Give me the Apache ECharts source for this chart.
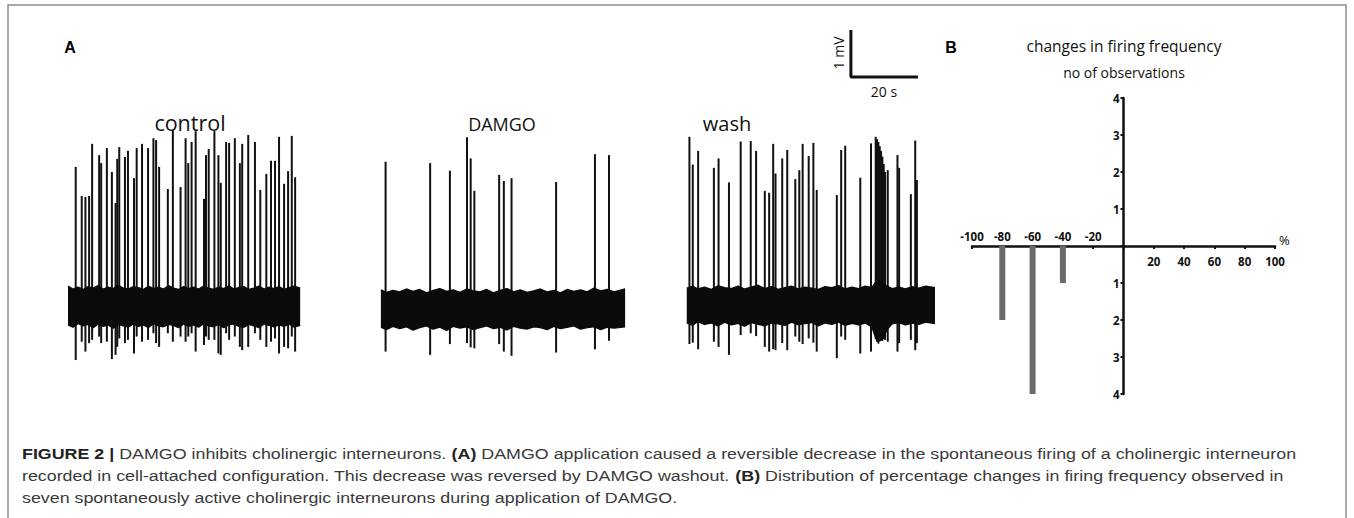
<!DOCTYPE html>
<html><head><meta charset="utf-8">
<script src="https://cdn.jsdelivr.net/npm/echarts@6/dist/echarts.min.js"></script>
<style>html,body{margin:0;padding:0;background:#fff}#c{width:1354px;height:518px}</style>
</head><body><div id="c"></div>
<script>
// ---------- Panel A : recordings (time in s, potential in mV) ----------
const traceLabels = ['control', 'DAMGO', 'wash'];
// spikes: [time s, peak mV, trough mV]
const controlSpikes = [[2.3,2.96,-1.15],[4.1,2.34,-0.76],[5.2,2.32,-0.97],[6.3,2.34,-0.79],[7.2,3.45,-0.72],[9.3,3.21,-0.65],[9.9,3.04,-0.79],[11.6,3.36,-0.76],[13.1,2.85,-1.13],[14.2,2.19,-1.04],[14.7,3.13,-0.87],[15.3,3.38,-0.69],[17.0,3.17,-0.79],[17.9,3.30,-0.72],[19.7,2.72,-1.01],[20.5,3.36,-0.65],[22.1,3.45,-0.76],[23.9,3.36,-0.72],[25.5,3.57,-0.58],[26.3,3.53,-0.79],[27.2,2.96,-0.87],[29.8,2.49,-0.58],[31.3,3.74,-0.76],[33.6,2.53,-0.65],[35.1,3.57,-0.76],[35.9,3.04,-0.65],[36.9,3.49,-0.58],[38.1,3.72,-0.97],[40.6,2.28,-0.83],[41.2,3.21,-0.65],[42.0,3.34,-0.72],[43.7,3.72,-0.72],[44.9,3.21,-1.01],[45.6,2.62,-1.04],[47.2,3.49,-0.58],[48.1,3.47,-0.72],[49.8,3.57,-0.65],[51.3,3.04,-0.87],[52.0,3.45,-0.94],[53.8,3.64,-0.87],[55.8,3.49,-0.58],[57.4,2.47,-0.72],[59.2,2.81,-0.87],[60.6,3.09,-0.76],[61.8,3.09,-0.69],[63.0,3.60,-1.01],[64.5,2.60,-0.87],[65.7,2.87,-0.90],[66.8,3.62,-0.65],[67.8,2.74,-0.97]];
const damgoSpikes = [[94.8,3.07,-0.97],[108.1,3.04,-1.04],[114.0,2.88,-0.81],[119.1,3.59,-0.79],[120.2,3.14,-0.88],[121.3,2.45,-0.90],[128.7,2.79,-0.81],[130.1,2.66,-0.97],[132.4,2.72,-1.06],[145.7,2.64,-0.99],[157.3,3.23,-0.92],[161.5,3.21,-0.74]];
const washSpikes = [[185.5,3.60,-0.81],[186.5,3.01,-0.78],[188.1,3.30,-0.92],[192.8,2.94,-0.76],[194.2,3.14,-0.87],[197.3,2.63,-1.04],[200.8,3.50,-0.62],[203.8,3.51,-0.58],[205.4,3.30,-0.64],[208.0,2.45,-0.87],[209.3,2.41,-0.97],[210.5,3.45,-0.92],[211.2,2.82,-0.94],[213.2,3.14,-0.79],[214.7,3.32,-0.94],[217.1,2.70,-0.65],[218.3,2.89,-0.76],[219.3,3.45,-0.81],[221.1,3.19,-0.69],[222.5,3.47,-0.78],[223.5,2.47,-0.97],[229.5,2.36,-1.11],[230.8,3.32,-0.65],[232.0,3.41,-0.72],[236.5,2.73,-1.01],[239.7,3.46,-0.97],[241.1,3.60,-0.70],[241.5,3.55,-0.75],[241.9,3.49,-0.80],[242.3,3.40,-0.75],[242.7,3.30,-0.72],[243.1,3.18,-0.74],[243.5,3.02,-0.70],[243.9,2.85,-0.72],[244.7,2.89,-0.76],[247.6,3.21,-0.97],[248.1,2.94,-0.79],[251.6,2.38,-0.72],[252.9,3.52,-0.94],[253.4,2.68,-0.79]];
// noise envelope: time, upper mV, lower mV
const controlEnvT  = [0,1.5,3,4.5,6,7.5,9,10.5,12,13.5,15,16.5,18,19.5,21,22.5,24,25.5,27,28.5,30,31.5,33,34.5,36,37.5,39,40.5,42,43.5,45,46.5,48,49.5,51,52.5,54,55.5,57,58.5,60,61.5,63,64.5,66,67.5,69.3];
const controlEnvHi = [0.42,0.36,0.40,0.35,0.41,0.38,0.43,0.36,0.40,0.37,0.44,0.38,0.36,0.41,0.39,0.35,0.42,0.37,0.40,0.36,0.43,0.38,0.35,0.41,0.37,0.40,0.36,0.42,0.38,0.35,0.40,0.37,0.43,0.36,0.39,0.41,0.35,0.38,0.42,0.36,0.40,0.37,0.41,0.35,0.39,0.42,0.38];
const controlEnvLo = [-0.40,-0.45,-0.37,-0.42,-0.39,-0.46,-0.38,-0.43,-0.40,-0.47,-0.39,-0.42,-0.45,-0.38,-0.43,-0.40,-0.46,-0.37,-0.42,-0.44,-0.39,-0.41,-0.46,-0.38,-0.43,-0.40,-0.45,-0.37,-0.42,-0.44,-0.39,-0.46,-0.40,-0.38,-0.43,-0.45,-0.39,-0.42,-0.46,-0.38,-0.41,-0.44,-0.40,-0.43,-0.38,-0.45,-0.41];
const damgoEnvT  = [93.4,95,97,99,101,103,105,107,109,111,113,115,117,119,121,123,125,127,129,131,133,135,137,139,141,143,145,147,149,151,153,155,157,159,161,163,166.3];
const damgoEnvHi = [0.34,0.29,0.33,0.30,0.36,0.31,0.35,0.28,0.33,0.37,0.31,0.34,0.29,0.36,0.32,0.30,0.35,0.28,0.33,0.37,0.30,0.34,0.29,0.32,0.36,0.30,0.33,0.28,0.35,0.31,0.34,0.30,0.38,0.32,0.35,0.30,0.36];
const damgoEnvLo = [-0.45,-0.50,-0.43,-0.48,-0.44,-0.51,-0.46,-0.42,-0.49,-0.45,-0.52,-0.43,-0.47,-0.44,-0.50,-0.46,-0.42,-0.48,-0.45,-0.51,-0.43,-0.47,-0.49,-0.44,-0.46,-0.50,-0.43,-0.48,-0.45,-0.42,-0.49,-0.46,-0.44,-0.50,-0.45,-0.47,-0.44];
const washEnvT  = [184.7,186.5,188,190,192,194,196,198,200,202,204,206,208,210,212,214,216,218,220,222,224,226,228,230,232,234,236,238,240,241.5,243,244.5,246,248,250,252,254,256,258.8];
const washEnvHi = [0.38,0.42,0.36,0.40,0.35,0.43,0.39,0.37,0.42,0.36,0.40,0.44,0.37,0.41,0.35,0.39,0.42,0.36,0.40,0.38,0.35,0.41,0.39,0.43,0.36,0.40,0.37,0.42,0.39,0.55,0.50,0.42,0.37,0.40,0.36,0.41,0.38,0.42,0.39];
const washEnvLo = [-0.36,-0.41,-0.33,-0.39,-0.36,-0.42,-0.34,-0.40,-0.37,-0.43,-0.35,-0.39,-0.42,-0.36,-0.38,-0.41,-0.34,-0.40,-0.37,-0.35,-0.42,-0.36,-0.39,-0.34,-0.41,-0.37,-0.40,-0.36,-0.45,-0.75,-0.72,-0.50,-0.38,-0.35,-0.40,-0.36,-0.39,-0.34,-0.37];
// scale bar
const scaleBarOrigin = [233.7, 4.87];
const scaleBarSeconds = 20;
const scaleBarMv = 1;

// ---------- Panel B : histogram ----------
const changeBins = [-80, -60, -40];        // % change in firing frequency
const observationCounts = [2, 4, 1];       // no of observations (decreases drawn downward)

const chart = echarts.init(document.getElementById('c'), null, {renderer: 'svg'});

function spikeSeries(data) {
  return {
    type: 'custom', xAxisIndex: 0, yAxisIndex: 0, silent: true, data,
    encode: {x: 0, y: [1, 2]},
    renderItem: (p, api) => {
      const a = api.coord([api.value(0), api.value(1)]);
      const b = api.coord([api.value(0), api.value(2)]);
      return {type: 'line', shape: {x1: a[0], y1: a[1], x2: b[0], y2: b[1]},
        style: {stroke: '#111', lineWidth: 2}};
    }
  };
}
function envSeries(t, v) {
  return {
    type: 'line', xAxisIndex: 0, yAxisIndex: 0, silent: true,
    data: t.map((x, i) => [x, v[i]]), showSymbol: false, symbol: 'none',
    lineStyle: {color: '#0b0b0b', width: 1.5},
    areaStyle: {color: '#0b0b0b', opacity: 1, origin: 'auto'}
  };
}

const sb = scaleBarOrigin;
const series = [
  envSeries(controlEnvT, controlEnvHi), envSeries(controlEnvT, controlEnvLo),
  envSeries(damgoEnvT, damgoEnvHi), envSeries(damgoEnvT, damgoEnvLo),
  envSeries(washEnvT, washEnvHi), envSeries(washEnvT, washEnvLo),
  spikeSeries(controlSpikes), spikeSeries(damgoSpikes), spikeSeries(washSpikes),
  {type: 'line', xAxisIndex: 0, yAxisIndex: 0, silent: true, symbol: 'none',
   data: [[sb[0], sb[1] + scaleBarMv], [sb[0], sb[1]], [sb[0] + scaleBarSeconds, sb[1]]],
   lineStyle: {color: '#111', width: 3}},
  {type: 'bar', xAxisIndex: 2, yAxisIndex: 1, silent: true, barWidth: 6,
   data: changeBins.map((b, i) => [b, -observationCounts[i]]),
   itemStyle: {color: '#6b6b6b'}}
];

const labFont = {fontFamily: 'Open Sans', fontWeight: 'bold', fontSize: 11.5, color: '#111'};
const GB = {left: 972, top: 98, width: 303, height: 296};

chart.setOption({
  animation: false,
  grid: [
    {left: 68, top: 24, width: 871, height: 376},
    GB
  ],
  xAxis: [
    {gridIndex: 0, type: 'value', min: 0, max: 260, show: false},
    {gridIndex: 1, type: 'value', min: -100, max: 100, interval: 20, position: 'top',
     offset: -GB.height / 2,
     axisLine: {show: false, onZero: false},
     axisTick: {show: false}, splitLine: {show: false},
     axisLabel: Object.assign({margin: 4, formatter: v => v < 0 ? String(v) : ''}, labFont)},
    {gridIndex: 1, type: 'value', min: -100, max: 100, interval: 20, position: 'bottom',
     offset: -GB.height / 2,
     axisLine: {show: true, onZero: false, lineStyle: {color: '#111', width: 2.5}},
     axisTick: {show: true, length: 3, lineStyle: {color: '#111', width: 2}},
     splitLine: {show: false},
     axisLabel: Object.assign({margin: 9, formatter: v => v > 0 ? String(v) : ''}, labFont)}
  ],
  yAxis: [
    {gridIndex: 0, type: 'value', min: -2, max: 6, show: false},
    {gridIndex: 1, type: 'value', min: -4, max: 4, interval: 1, position: 'left',
     offset: -GB.width / 2,
     axisLine: {show: true, onZero: false, lineStyle: {color: '#111', width: 2.5}},
     axisTick: {show: true, length: 3, lineStyle: {color: '#111', width: 2}},
     splitLine: {show: false},
     axisLabel: Object.assign({margin: 4, formatter: v => v === 0 ? '' : String(Math.abs(v))}, labFont)}
  ],
  series,
  graphic: [
    {type: 'rect', silent: true, shape: {x: 8, y: 5, width: 1338, height: 540},
     style: {fill: 'none', stroke: '#8c8c8c', lineWidth: 1.5}},
    {type: 'text', silent: true, style: {text: 'A', x: 70, y: 47, font: 'bold 16px "Liberation Sans"', fill: '#000', align: 'center', verticalAlign: 'middle'}},
    {type: 'text', silent: true, style: {text: 'B', x: 951, y: 47, font: 'bold 16px "Liberation Sans"', fill: '#000', align: 'center', verticalAlign: 'middle'}},
    {type: 'text', silent: true, style: {text: traceLabels[0], x: 190, y: 122, font: '21.5px "Open Sans"', fill: '#111', align: 'center', verticalAlign: 'middle'}},
    {type: 'text', silent: true, style: {text: traceLabels[1], x: 502, y: 124, font: '18px "Open Sans"', fill: '#111', align: 'center', verticalAlign: 'middle'}},
    {type: 'text', silent: true, style: {text: traceLabels[2], x: 727, y: 123, font: '20px "Open Sans"', fill: '#111', align: 'center', verticalAlign: 'middle'}},
    {type: 'text', silent: true, rotation: Math.PI / 2, x: 838, y: 53,
     style: {text: '1 mV', x: 0, y: 0, font: '14px "Open Sans"', fill: '#111', align: 'center', verticalAlign: 'middle'}},
    {type: 'text', silent: true, style: {text: '20 s', x: 884, y: 91, font: '14px "Open Sans"', fill: '#111', align: 'center', verticalAlign: 'middle'}},
    {type: 'text', silent: true, style: {text: 'changes in firing frequency', x: 1124, y: 46, font: '15.5px "Open Sans"', fill: '#111', align: 'center', verticalAlign: 'middle'}},
    {type: 'text', silent: true, style: {text: 'no of observations', x: 1124, y: 72, font: '14px "Open Sans"', fill: '#111', align: 'center', verticalAlign: 'middle'}},
    {type: 'text', silent: true, style: {text: '%', x: 1279, y: 240, font: '13px "Open Sans"', fill: '#111', align: 'left', verticalAlign: 'middle'}},
    {type: 'text', silent: true, x: 22, y: 454, scaleX: 1.19,
     style: {
      text: '{b|FIGURE 2 |} DAMGO inhibits cholinergic interneurons. {b|(A)} DAMGO application caused a reversible decrease in the spontaneous firing of a cholinergic interneuron',
      x: 0, y: 0, font: '15px "Liberation Sans"', fill: '#3a3a3a', verticalAlign: 'middle',
      rich: {b: {fontWeight: 'bold', fontSize: 15, fontFamily: 'Liberation Sans', fill: '#222'}}}},
    {type: 'text', silent: true, x: 22, y: 476, scaleX: 1.19,
     style: {
      text: 'recorded in cell-attached configuration. This decrease was reversed by DAMGO washout. {b|(B)} Distribution of percentage changes in firing frequency observed in',
      x: 0, y: 0, font: '15px "Liberation Sans"', fill: '#3a3a3a', verticalAlign: 'middle',
      rich: {b: {fontWeight: 'bold', fontSize: 15, fontFamily: 'Liberation Sans', fill: '#222'}}}},
    {type: 'text', silent: true, x: 22, y: 498, scaleX: 1.19,
     style: {
      text: 'seven spontaneously active cholinergic interneurons during application of DAMGO.',
      x: 0, y: 0, font: '15px "Liberation Sans"', fill: '#3a3a3a', verticalAlign: 'middle'}}
  ]
});
</script></body></html>
